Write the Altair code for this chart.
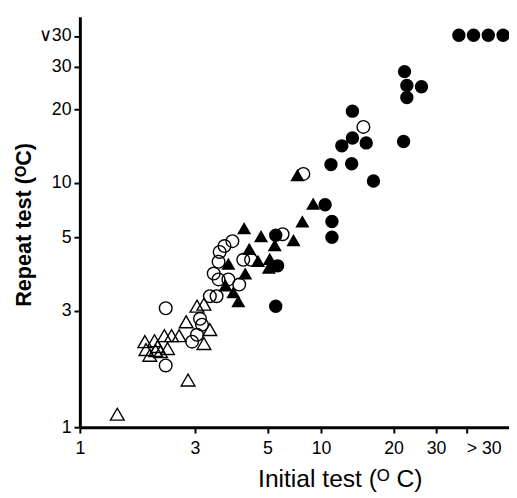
import altair as alt
import pandas as pd

# Open triangles
ot_x = [1.43, 1.86, 2.04, 1.88, 1.95, 2.06, 2.16, 2.31, 2.24, 2.40, 2.58, 2.76, 3.06, 3.27, 3.46, 3.27, 2.81, 2.10]
ot_y = [1.13, 2.24, 2.26, 2.08, 1.97, 2.06, 2.04, 2.10, 2.37, 2.37, 2.37, 2.70, 3.13, 3.19, 2.51, 2.20, 1.56, 2.14]

# Filled triangles
ft_x = [4.80, 5.64, 6.43, 7.69, 8.37, 9.28, 7.98, 5.04, 5.48, 6.13, 6.08, 4.13, 4.85, 4.02, 4.33, 4.54]
ft_y = [6.53, 6.06, 5.57, 5.84, 6.96, 8.23, 10.77, 5.37, 4.80, 4.89, 4.50, 4.67, 4.26, 3.81, 3.57, 3.28]

# Open circles
oc_x = [2.27, 2.27, 2.92, 3.06, 3.15, 3.21, 3.46, 3.69, 3.59, 3.76, 3.80, 3.98, 4.29, 3.76, 4.13, 4.58, 4.76, 5.13, 6.93, 8.45, 14.99]
oc_y = [3.07, 1.79, 2.24, 2.39, 2.78, 2.63, 3.44, 3.44, 4.26, 4.76, 5.22, 5.52, 5.78, 4.03, 4.03, 3.84, 4.85, 4.85, 6.17, 10.9, 16.98]

# Filled circles
fc_x = [37.3, 42.9, 49.4, 56.9, 22.2, 22.7, 26.1, 22.7, 13.5, 13.5, 12.2, 15.4, 22.0, 11.0, 13.4, 16.5, 10.4, 11.1, 11.1, 6.49, 6.61, 6.49]
fc_y = [40.3, 40.3, 40.3, 40.3, 28.6, 25.1, 24.8, 22.4, 19.7, 15.3, 14.2, 14.6, 14.8, 11.9, 12.0, 10.2, 8.15, 6.96, 6.0, 6.11, 4.58, 3.13]

tick_vals = [1, 3, 6, 10, 20, 30, 40]

FONT = "Liberation Sans"

x_axis = alt.Axis(
    values=tick_vals,
    labelExpr="datum.value >= 35 ? '> 30' : datum.value == 6 ? '5' : format(datum.value, 'd')",
    labelAlign={"condition": {"test": "datum.value >= 35", "value": "left"}, "value": "center"},
    grid=False, domainColor="black", domainWidth=3, tickColor="black", tickWidth=2, tickSize=6,
    labelFont=FONT, labelFontSize=18, labelColor="black", labelPadding=7,
    labelOverlap=False, labelFlush=False,
    title="Initial test (\u1d3c C)", titleFont=FONT, titleFontSize=25, titleFontWeight="normal",
    titleColor="black", titleX=264, titleY=40, titleBaseline="top", titleAlign="center",
)
y_axis = alt.Axis(
    values=tick_vals,
    labelExpr="datum.value >= 35 ? '\u222830' : datum.value == 6 ? '5' : format(datum.value, 'd')",
    grid=False, domainColor="black", domainWidth=3, tickColor="black", tickWidth=2, tickSize=6,
    labelFont=FONT, labelFontSize=18, labelColor="black", labelPadding=3,
    labelOverlap=False, labelFlush=False,
    title="Repeat test (\u1d3cC)", titleFont=FONT, titleFontSize=22, titleFontWeight="bold",
    titleColor="black", titleX=-50, titleY=211, titleBaseline="alphabetic", titleAlign="center",
    titleAngle=270,
)

x_scale = alt.Scale(type="log", domain=[1, 60.2], nice=False)
y_scale = alt.Scale(type="log", domain=[1, 48], nice=False)


def layer(xs, ys, shape, filled, size):
    df = pd.DataFrame({"x": xs, "y": ys})
    if filled:
        mark = alt.Chart(df).mark_point(shape=shape, filled=True, size=size, color="black", opacity=1, strokeWidth=0)
    else:
        mark = alt.Chart(df).mark_point(shape=shape, filled=False, size=size, color="black", opacity=1, strokeWidth=1.4)
    return mark.encode(
        x=alt.X("x:Q", scale=x_scale, axis=x_axis),
        y=alt.Y("y:Q", scale=y_scale, axis=y_axis),
    )


chart = alt.layer(
    layer(oc_x, oc_y, "circle", False, 165),
    layer(ot_x, ot_y, "triangle-up", False, 195),
    layer(ft_x, ft_y, "triangle-up", True, 205),
    layer(fc_x, fc_y, "circle", True, 185),
).properties(
    width=436, height=417,
    autosize=alt.AutoSizeParams(type="none"),
    padding={"left": 73, "top": 5, "right": 0, "bottom": 62},
    background="white",
).configure_view(stroke=None)

chart.save("out.html", embed_options={"renderer": "svg", "actions": False})
